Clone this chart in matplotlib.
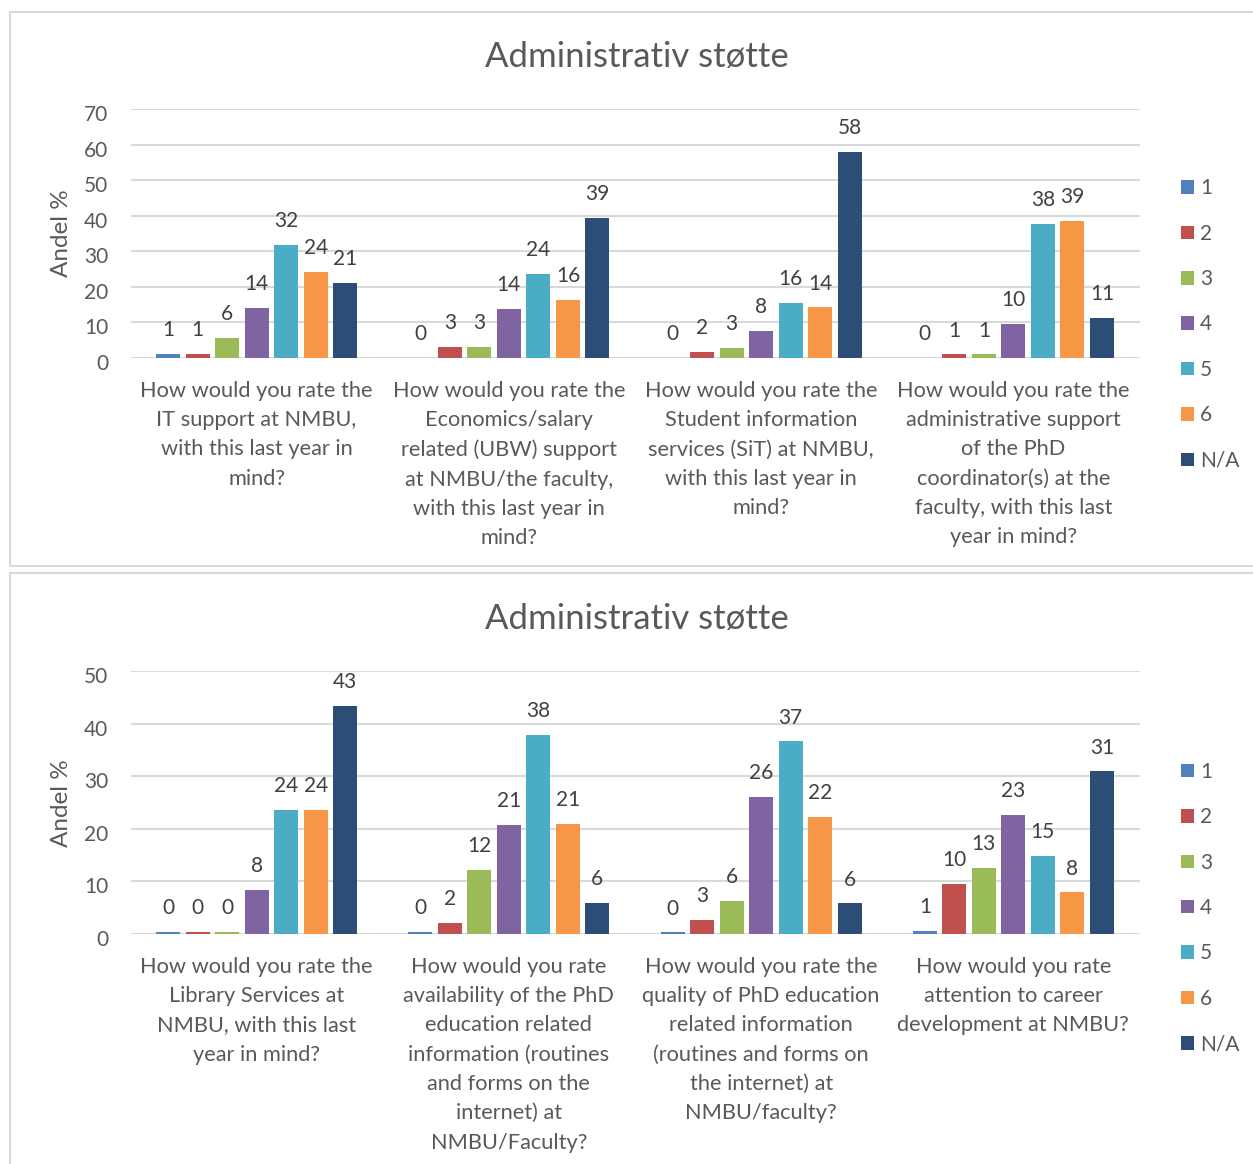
import matplotlib
matplotlib.use("Agg")
import matplotlib.pyplot as plt
from matplotlib.patches import Rectangle, Patch
from matplotlib.transforms import ScaledTranslation
import numpy as np

plt.rcParams['font.family'] = ['Lato', 'DejaVu Sans']

series_names = ["1", "2", "3", "4", "5", "6", "N/A"]
colors = ["#4F81BD", "#C0504D", "#9BBB59", "#8064A2", "#4BACC6", "#F79646", "#2C4D75"]

title = "Administrativ støtte"
ylabel = "Andel %"

# Chart 1 categories and values (rows = categories, columns = series 1..6, N/A)
cats_top = [
    "How would you rate the\nIT support at NMBU,\nwith this last year in\nmind?",
    "How would you rate the\nEconomics/salary\nrelated (UBW) support\nat NMBU/the faculty,\nwith this last year in\nmind?",
    "How would you rate the\nStudent information\nservices (SiT) at NMBU,\nwith this last year in\nmind?",
    "How would you rate the\nadministrative support\nof the PhD\ncoordinator(s) at the\nfaculty, with this last\nyear in mind?",
]
vals_top_1 = [1.1, 0.0, 0.0, 0.0]
vals_top_2 = [1.1, 3.2, 1.6, 1.0]
vals_top_3 = [5.7, 3.2, 2.8, 1.0]
vals_top_4 = [14.1, 13.8, 7.6, 9.6]
vals_top_5 = [31.9, 23.6, 15.6, 37.7]
vals_top_6 = [24.3, 16.3, 14.2, 38.6]
vals_top_na = [21.0, 39.3, 58.0, 11.2]
yticks_top = [0, 10, 20, 30, 40, 50, 60, 70]

# Chart 2
cats_bot = [
    "How would you rate the\nLibrary Services at\nNMBU, with this last\nyear in mind?",
    "How would you rate\navailability of the PhD\neducation related\ninformation (routines\nand forms on the\ninternet) at\nNMBU/Faculty?",
    "How would you rate the\nquality of PhD education\nrelated information\n(routines and forms on\nthe internet) at\nNMBU/faculty?",
    "How would you rate\nattention to career\ndevelopment at NMBU?",
]
vals_bot_1 = [0.4, 0.4, 0.3, 0.6]
vals_bot_2 = [0.4, 2.1, 2.6, 9.6]
vals_bot_3 = [0.4, 12.2, 6.2, 12.6]
vals_bot_4 = [8.4, 20.7, 26.0, 22.7]
vals_bot_5 = [23.6, 37.8, 36.6, 14.9]
vals_bot_6 = [23.6, 20.9, 22.2, 7.9]
vals_bot_na = [43.3, 5.9, 5.8, 30.9]
yticks_bot = [0, 10, 20, 30, 40, 50]

W, H = 1253, 1164
fig = plt.figure(figsize=(W / 100, H / 100), dpi=100)

TXT = "#595959"
LBL = "#404040"
GRID = "#D9D9D9"

# frames
fig.patches.append(Rectangle((10 / W, 1 - 566 / H), 1.2, (566 - 12) / H,
                             transform=fig.transFigure, fill=False,
                             edgecolor="#D9D9D9", lw=1.5, zorder=0))
fig.patches.append(Rectangle((10 / W, -0.2), 1.2, 0.2 + (H - 573) / H,
                             transform=fig.transFigure, fill=False,
                             edgecolor="#D9D9D9", lw=1.5, zorder=0))


def draw(ax_rect, cats, series, yticks, title_y, leg_center_y, ylabel_y):
    ax = fig.add_axes(ax_rect)
    n = len(cats)
    x = np.arange(n)
    pitch = 0.117
    width = 0.095
    for i, (vals, col, name) in enumerate(zip(series, colors, series_names)):
        pos = x + (i - 3) * pitch
        bc = ax.bar(pos, vals, width=width, color=col, label=name, zorder=3)
        ax.bar_label(bc, labels=[f"{v:.0f}" for v in vals], padding=10,
                     fontsize=15, color=LBL)
    ax.set_xlim(-0.5, n - 0.5)
    ax.set_ylim(yticks[0], yticks[-1])
    ax.set_yticks(yticks)
    ax.set_yticklabels([str(t) for t in yticks], fontsize=15, color=TXT)
    ax.tick_params(axis='y', length=0, pad=16)
    off = ScaledTranslation(0, -4 / 100, fig.dpi_scale_trans)
    for lab in ax.get_yticklabels():
        lab.set_transform(lab.get_transform() + off)
    ax.set_xticks([])
    for s in ax.spines.values():
        s.set_visible(False)
    ax.grid(axis='y', color=GRID, lw=1.5, zorder=0)
    ax.set_axisbelow(True)
    for xi, c in zip(x, cats):
        ax.annotate(c, xy=(xi, 0), xycoords=('data', 'axes fraction'),
                    xytext=(0, -16.5), textcoords='offset points',
                    ha='center', va='top', fontsize=15.7, color=TXT,
                    linespacing=1.58)
    fig.text(637 / W, 1 - title_y / H, title, ha='center', va='center',
             fontsize=25, color=TXT)
    fig.text(62 / W, 1 - ylabel_y / H, ylabel, rotation=90, ha='center',
             va='center', fontsize=17.5, color=TXT)
    handles = [Patch(facecolor=c, edgecolor='none') for c in colors]
    fig.legend(handles, series_names, loc='center left',
               bbox_to_anchor=(1181 / W, 1 - leg_center_y / H),
               frameon=False, fontsize=15, labelcolor=TXT,
               handlelength=0.62, handleheight=0.62, handletextpad=0.3,
               labelspacing=1.22, borderpad=0, borderaxespad=0)
    return ax


ax1 = draw([130.5 / W, 1 - 358 / H, 1009 / W, 249 / H], cats_top,
           [vals_top_1, vals_top_2, vals_top_3, vals_top_4, vals_top_5, vals_top_6, vals_top_na],
           yticks_top, 57, 324.5, 233)
ax2 = draw([130.5 / W, 1 - 934 / H, 1009 / W, 263 / H], cats_bot,
           [vals_bot_1, vals_bot_2, vals_bot_3, vals_bot_4, vals_bot_5, vals_bot_6, vals_bot_na],
           yticks_bot, 619, 908, 803)

fig.savefig("out.png", dpi=100, facecolor="white")
